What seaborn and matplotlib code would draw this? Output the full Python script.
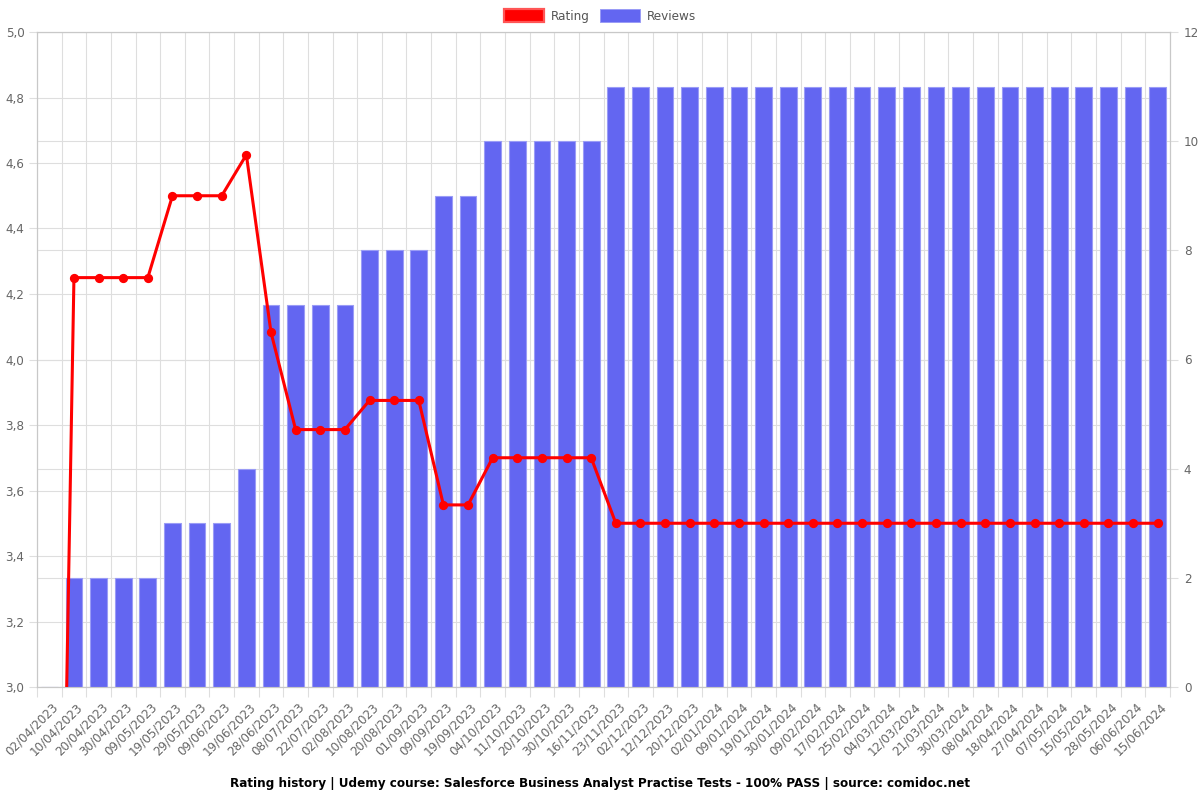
import matplotlib
matplotlib.use("Agg")
import matplotlib.pyplot as plt
import matplotlib.transforms as mtransforms
from matplotlib.patches import Patch
from matplotlib.ticker import FuncFormatter, MultipleLocator
import numpy as np
import seaborn as sns

dates = ["02/04/2023", "10/04/2023", "20/04/2023", "30/04/2023", "09/05/2023",
         "19/05/2023", "29/05/2023", "09/06/2023", "19/06/2023", "28/06/2023",
         "08/07/2023", "22/07/2023", "02/08/2023", "10/08/2023", "20/08/2023",
         "01/09/2023", "09/09/2023", "19/09/2023", "04/10/2023", "11/10/2023",
         "20/10/2023", "30/10/2023", "16/11/2023", "23/11/2023", "02/12/2023",
         "12/12/2023", "20/12/2023", "02/01/2024", "09/01/2024", "19/01/2024",
         "30/01/2024", "09/02/2024", "17/02/2024", "25/02/2024", "04/03/2024",
         "12/03/2024", "21/03/2024", "30/03/2024", "08/04/2024", "18/04/2024",
         "27/04/2024", "07/05/2024", "15/05/2024", "28/05/2024", "06/06/2024",
         "15/06/2024"]
reviews = [0, 2, 2, 2, 2, 3, 3, 3, 4, 7, 7, 7, 7, 8, 8, 8, 9, 9,
           10, 10, 10, 10, 10] + [11] * 23
rating = [0, 4.25, 4.25, 4.25, 4.25, 4.5, 4.5, 4.5, 4.625, 4.083,
          3.786, 3.786, 3.786, 3.875, 3.875, 3.875, 3.556, 3.556,
          3.7, 3.7, 3.7, 3.7, 3.7] + [3.5] * 23

title = ("Rating history | Udemy course: Salesforce Business Analyst Practise Tests"
         " - 100% PASS | source: comidoc.net")

BAR = "#6366F1"
BAR_EDGE = "#9a9cf6"
GRID = "#dedede"
TXT = "#666666"
FS = 8.64

sns.set_theme(style="white")
plt.rcParams['font.family'] = ['DejaVu Sans']

fig = plt.figure(figsize=(12, 8), dpi=100)
rect = [37 / 1200, 113 / 800, (1170 - 37) / 1200, (687 - 32) / 800]
ax = fig.add_axes(rect)
ax.set_zorder(0)
ax_r = ax.twinx()
ax_r.set_zorder(1)
ax_r.patch.set_visible(False)
ax_line = fig.add_axes(rect, sharex=ax, sharey=ax)
ax_line.set_zorder(2)
ax_line.patch.set_visible(False)

# Reviews bars (right axis)
sns.barplot(x=dates, y=reviews, ax=ax_r, color=BAR, saturation=1, width=0.68,
            edgecolor=BAR_EDGE, linewidth=0.8)

# Rating line (left axis scale)
sns.pointplot(x=dates, y=rating, ax=ax_line, color="red", errorbar=None,
              markersize=5, linewidth=2.2)

ax.set_ylim(3, 5)
ax_r.set_ylim(0, 12)
ax.set_xlim(-0.5, len(dates) - 0.5)
ax_line.axis('off')

# Left axis
ax.yaxis.set_major_locator(MultipleLocator(0.2))
ax.yaxis.set_major_formatter(FuncFormatter(lambda v, p: f"{v:.1f}".replace('.', ',')))
ax.tick_params(axis='y', which='major', left=True, length=6, width=0.8,
               color=GRID, labelsize=FS, labelcolor=TXT, pad=3)
ax.grid(axis='y', which='major', color=GRID, linewidth=0.8)

# X axis
ax.set_xticks(np.arange(len(dates)))
ax.set_xticklabels(dates, rotation=45, ha='right', va='center',
                   rotation_mode='anchor', fontsize=FS, color=TXT)
ax.set_xticks(np.arange(-0.5, len(dates), 1), minor=True)
ax.tick_params(axis='x', which='major', bottom=True, length=0, pad=13)
ax.tick_params(axis='x', which='minor', bottom=True, length=7, width=0.8, color=GRID)
ax.grid(axis='x', which='minor', color=GRID, linewidth=0.8)
ax.grid(axis='x', which='major', visible=False)
offset = mtransforms.ScaledTranslation(7 / 100, 0, fig.dpi_scale_trans)
for lab in ax.get_xticklabels():
    lab.set_transform(lab.get_transform() + offset)

# Right axis
ax_r.yaxis.set_major_locator(MultipleLocator(2))
ax_r.tick_params(axis='y', which='major', right=True, length=6, width=0.8,
                 color=GRID, labelsize=FS, labelcolor=TXT, pad=4)
ax_r.grid(axis='y', which='major', color=GRID, linewidth=0.8)
ax_r.grid(axis='x', visible=False)
ax_r.set_axisbelow(True)

for a in (ax, ax_r, ax_line):
    a.set_xlabel("")
    a.set_ylabel("")
for a in (ax, ax_r):
    for s in a.spines.values():
        s.set_color("#c8c8c8")
        s.set_linewidth(0.8)

handles = [Patch(facecolor="red", edgecolor="#ff5555", linewidth=1.6),
           Patch(facecolor=BAR, edgecolor=BAR_EDGE, linewidth=0.7)]
fig.legend(handles, ["Rating", "Reviews"], loc='center',
           bbox_to_anchor=(0.5, 1 - 16 / 800), ncol=2, frameon=False,
           fontsize=FS, handlelength=3.3, handleheight=1.25,
           columnspacing=0.9, handletextpad=0.55, labelcolor="#555555")

fig.text(0.5, 1 - 783 / 800, title, ha='center', va='center',
         fontweight='bold', fontsize=FS, color='black')

fig.savefig("out.png", dpi=100)
